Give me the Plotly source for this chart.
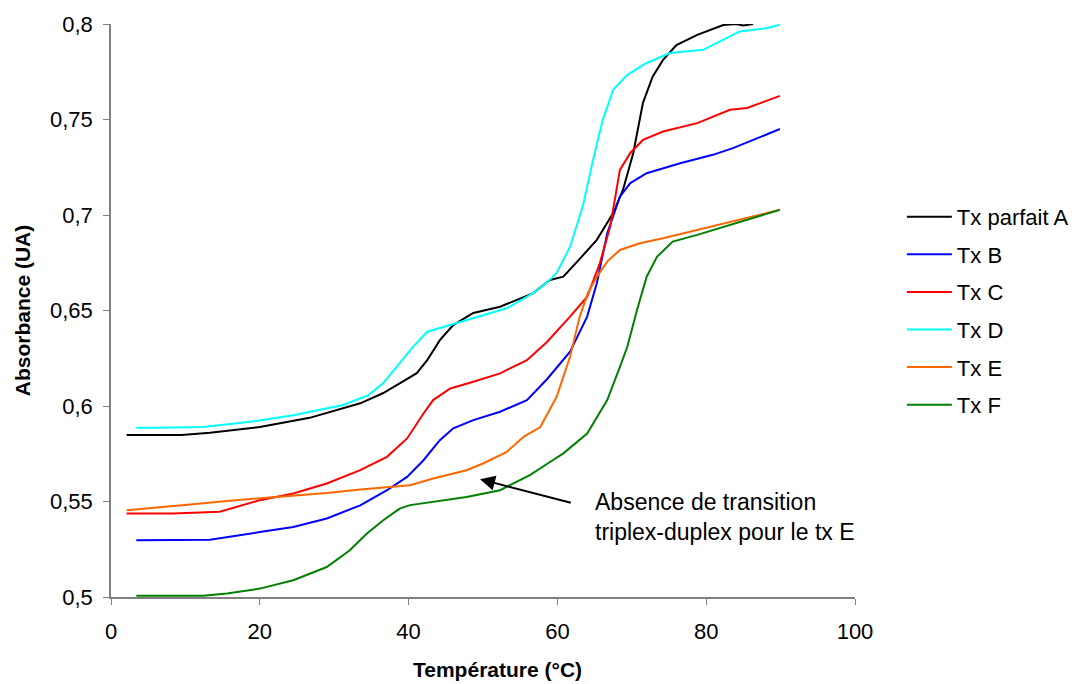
import plotly.graph_objects as go

names = ["Tx parfait A", "Tx B", "Tx C", "Tx D", "Tx E", "Tx F"]
colors = ["#000000", "#0000FF", "#FF0000", "#00FFFF", "#FF6600", "#008000"]

a_x = [2.1, 9.5, 13.3, 20, 26.7, 33.5, 36.6, 38.8, 41.1, 42.5, 44.2, 46, 48.7, 52.3, 56.7, 59, 60.8, 63, 65.3, 67.5, 68.8, 70.2, 71.5, 72.8, 74.2, 76, 78.8, 82.3, 84, 85, 86.3]
a_y = [0.5848, 0.5848, 0.586, 0.589, 0.5938, 0.6014, 0.6068, 0.612, 0.6172, 0.624, 0.6345, 0.6424, 0.6487, 0.652, 0.659, 0.666, 0.6677, 0.677, 0.687, 0.701, 0.713, 0.7325, 0.7587, 0.7724, 0.7812, 0.789, 0.7943, 0.7995, 0.8, 0.7992, 0.8]

b_x = [3.4, 8.9, 13.3, 20, 24.5, 29, 33.5, 37.1, 39.8, 42, 44.2, 46, 48.7, 52.3, 55.9, 58.6, 61.7, 64, 65.3, 66.7, 68.4, 69.8, 72, 76.5, 80.9, 83.6, 89.9]
b_y = [0.5297, 0.5297, 0.53, 0.534, 0.5367, 0.5411, 0.548, 0.5559, 0.5629, 0.5716, 0.5821, 0.5883, 0.5926, 0.597, 0.6031, 0.614, 0.6284, 0.6468, 0.6643, 0.6905, 0.7096, 0.7167, 0.7219, 0.7271, 0.7315, 0.735, 0.745]

c_x = [2.1, 8.3, 14.6, 20, 24.5, 29, 33.5, 37.1, 39.8, 42, 43.3, 45.6, 48.7, 52.3, 55.9, 58.6, 61.7, 64, 65.7, 67.1, 68.4, 69.8, 71.5, 74.2, 78.8, 83.2, 85.5, 89.9]
c_y = [0.5437, 0.5437, 0.5446, 0.5507, 0.5542, 0.5594, 0.5664, 0.5734, 0.583, 0.5961, 0.6031, 0.6092, 0.6127, 0.6171, 0.624, 0.6335, 0.6468, 0.6572, 0.6747, 0.6939, 0.7236, 0.7325, 0.7393, 0.7437, 0.7481, 0.7551, 0.756, 0.7624]

d_x = [3.4, 6.2, 12.4, 18.7, 24.5, 31.2, 34.6, 36.6, 38.8, 40.6, 42.5, 45.6, 48.7, 53.2, 56.7, 58.7, 59.9, 61.7, 63.4, 64.8, 66.1, 67.5, 69.4, 72, 75.1, 79.6, 83.2, 84.5, 88.2, 89.9]
d_y = [0.5886, 0.5886, 0.589, 0.5917, 0.5952, 0.6005, 0.6057, 0.612, 0.6225, 0.631, 0.6389, 0.6424, 0.6459, 0.6512, 0.659, 0.665, 0.6697, 0.6834, 0.7044, 0.7289, 0.7498, 0.7656, 0.7734, 0.7796, 0.7848, 0.7865, 0.7935, 0.7961, 0.7979, 0.7996]

e_x = [2.1, 6.6, 11, 15.6, 20, 24.5, 29, 33.5, 37.9, 40.2, 43.3, 47.8, 50, 53.2, 55.5, 57.7, 59.9, 61.7, 63, 64.1, 65.3, 66.7, 68.4, 71.1, 74.2, 78.8, 83.2, 89.9]
e_y = [0.5454, 0.5472, 0.5486, 0.5503, 0.5516, 0.5533, 0.5545, 0.5563, 0.558, 0.5585, 0.562, 0.5664, 0.5699, 0.576, 0.584, 0.589, 0.6048, 0.6258, 0.6468, 0.6592, 0.6677, 0.6756, 0.6817, 0.6852, 0.6878, 0.6922, 0.6965, 0.7027]

f_x = [3.4, 12.4, 15.6, 20, 24.5, 29, 32.1, 34.4, 36.6, 38.8, 40.2, 43.3, 47.8, 52.3, 56.3, 58.7, 60.8, 64, 66.7, 68.4, 69.4, 70.7, 72, 73.4, 75.5, 78.8, 83.2, 89.9]
f_y = [0.5007, 0.5007, 0.5018, 0.5044, 0.5088, 0.5157, 0.5245, 0.5332, 0.5402, 0.5463, 0.5481, 0.5498, 0.5524, 0.5559, 0.5638, 0.5699, 0.5752, 0.5856, 0.6031, 0.6205, 0.631, 0.6503, 0.6677, 0.6782, 0.6861, 0.6896, 0.6948, 0.7027]

series_x = [a_x, b_x, c_x, d_x, e_x, f_x]
series_y = [a_y, b_y, c_y, d_y, e_y, f_y]

x_ticks = [0, 20, 40, 60, 80, 100]
y_ticks = [0.5, 0.55, 0.6, 0.65, 0.7, 0.75, 0.8]
y_labels = ["0,5", "0,55", "0,6", "0,65", "0,7", "0,75", "0,8"]

FONT = "Liberation Sans, Arial, sans-serif"

fig = go.Figure()
for i in range(6):
    fig.add_trace(go.Scatter(
        x=series_x[i], y=series_y[i], mode="lines", name=names[i],
        line=dict(color=colors[i], width=2), legendgroup=names[i],
    ))

fig.update_layout(
    width=1061, height=676,
    margin=dict(l=103, r=214, t=16, b=87, autoexpand=False),
    plot_bgcolor="white", paper_bgcolor="white",
    font=dict(family=FONT, size=22, color="black"),
    legend=dict(x=1.063, y=0.70, xanchor="left", yanchor="top",
                font=dict(size=22), tracegroupgap=6, itemwidth=45,
                bgcolor="rgba(0,0,0,0)"),
    showlegend=True,
)
fig.update_xaxes(
    range=[0, 100], tickvals=x_ticks, ticks="outside", ticklen=6,
    showgrid=False, zeroline=False, showline=True, linecolor="#808080",
    linewidth=1.5, tickcolor="#808080", automargin=False,
    ticklabelstandoff=8,
)
fig.update_yaxes(
    range=[0.5, 0.8], tickvals=y_ticks, ticktext=y_labels, ticks="outside",
    ticklen=6, showgrid=False, zeroline=False, showline=True,
    linecolor="#808080", linewidth=1.5, tickcolor="#808080", automargin=False,
    ticklabelstandoff=6,
    title=dict(text="<b>Absorbance (UA)</b>", font=dict(size=21), standoff=14),
)

# x-axis title (slightly right of centre, as in the original)
fig.add_annotation(
    x=0.519, y=-0.126, xref="paper", yref="paper", xanchor="center",
    yanchor="middle", text="<b>Température (°C)</b>", showarrow=False,
    font=dict(size=21),
)

fig.add_annotation(
    x=49.6, y=0.5617, ax=62.0, ay=0.5491, xref="x", yref="y",
    axref="x", ayref="y", text="", showarrow=True,
    arrowhead=2, arrowsize=1.5, arrowwidth=2, arrowcolor="black",
)
fig.add_annotation(
    x=64.8, y=0.5418, xref="x", yref="y", xanchor="left", yanchor="middle",
    text="Absence de transition<br>triplex-duplex pour le tx E",
    showarrow=False, align="left", font=dict(size=23),
)

fig.write_html("out.html")
